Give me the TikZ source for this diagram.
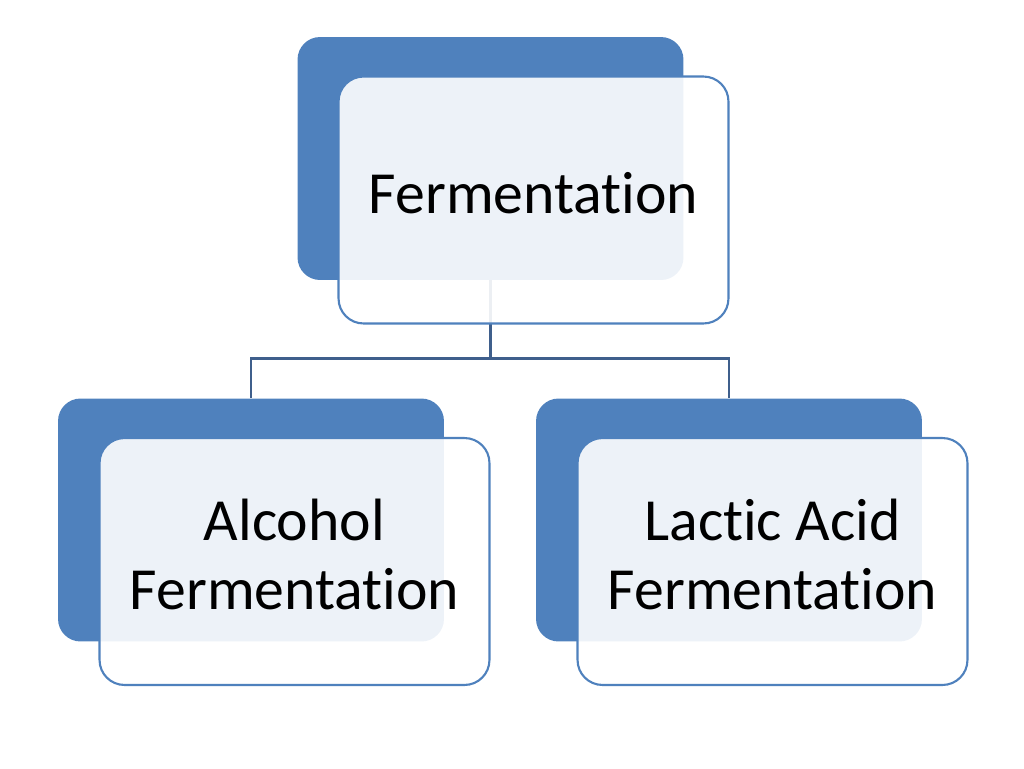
\documentclass[tikz,border=0pt]{standalone}
\usepackage{fontspec}
\setmainfont[Ligatures=NoCommon]{Carlito}
\definecolor{cardblue}{HTML}{4F81BD}
\definecolor{linkblue}{HTML}{3F5F8C}
\begin{document}
\begin{tikzpicture}[
  x=0.02cm, y=-0.02cm,
  back/.style={fill=cardblue, rounded corners=0.45cm, minimum width=7.72cm, minimum height=4.86cm, inner sep=0pt},
  front/.style={draw=cardblue, line width=1.2pt, fill=white, fill opacity=0.9, text opacity=1, rounded corners=0.5cm,
    minimum width=7.8cm, minimum height=4.94cm, align=center, inner sep=0pt, font=\fontsize{34}{39}\selectfont},
  link/.style={draw=linkblue, line width=1.4pt}
]
\useasboundingbox (0,0) rectangle (1024,768);
% back cards
\foreach \n/\x/\y in {top/490.5/158.5, alc/251/520, lac/729/520} {
  \node[back] (\n-back) at (\x,\y) {};
}
% tree lines, under the front cards
\coordinate (fork) at ([yshift=-1.56cm]top-back.south);
\draw[link] (top-back.south) -- (fork) -| (alc-back.north);
\draw[link] (fork) -| (lac-back.north);
% front cards with text
\foreach \n/\x/\y/\txt in {top/533.5/200/Fermentation, alc/294.5/561.5/{Alcohol\\Fermentation}, lac/772.5/561.5/{Lactic Acid\\Fermentation}} {
  \node[front] (\n) at (\x,\y) {\raisebox{0.03cm}{\begin{tabular}{@{}c@{}}\txt\end{tabular}}};
}
\end{tikzpicture}
\end{document}
